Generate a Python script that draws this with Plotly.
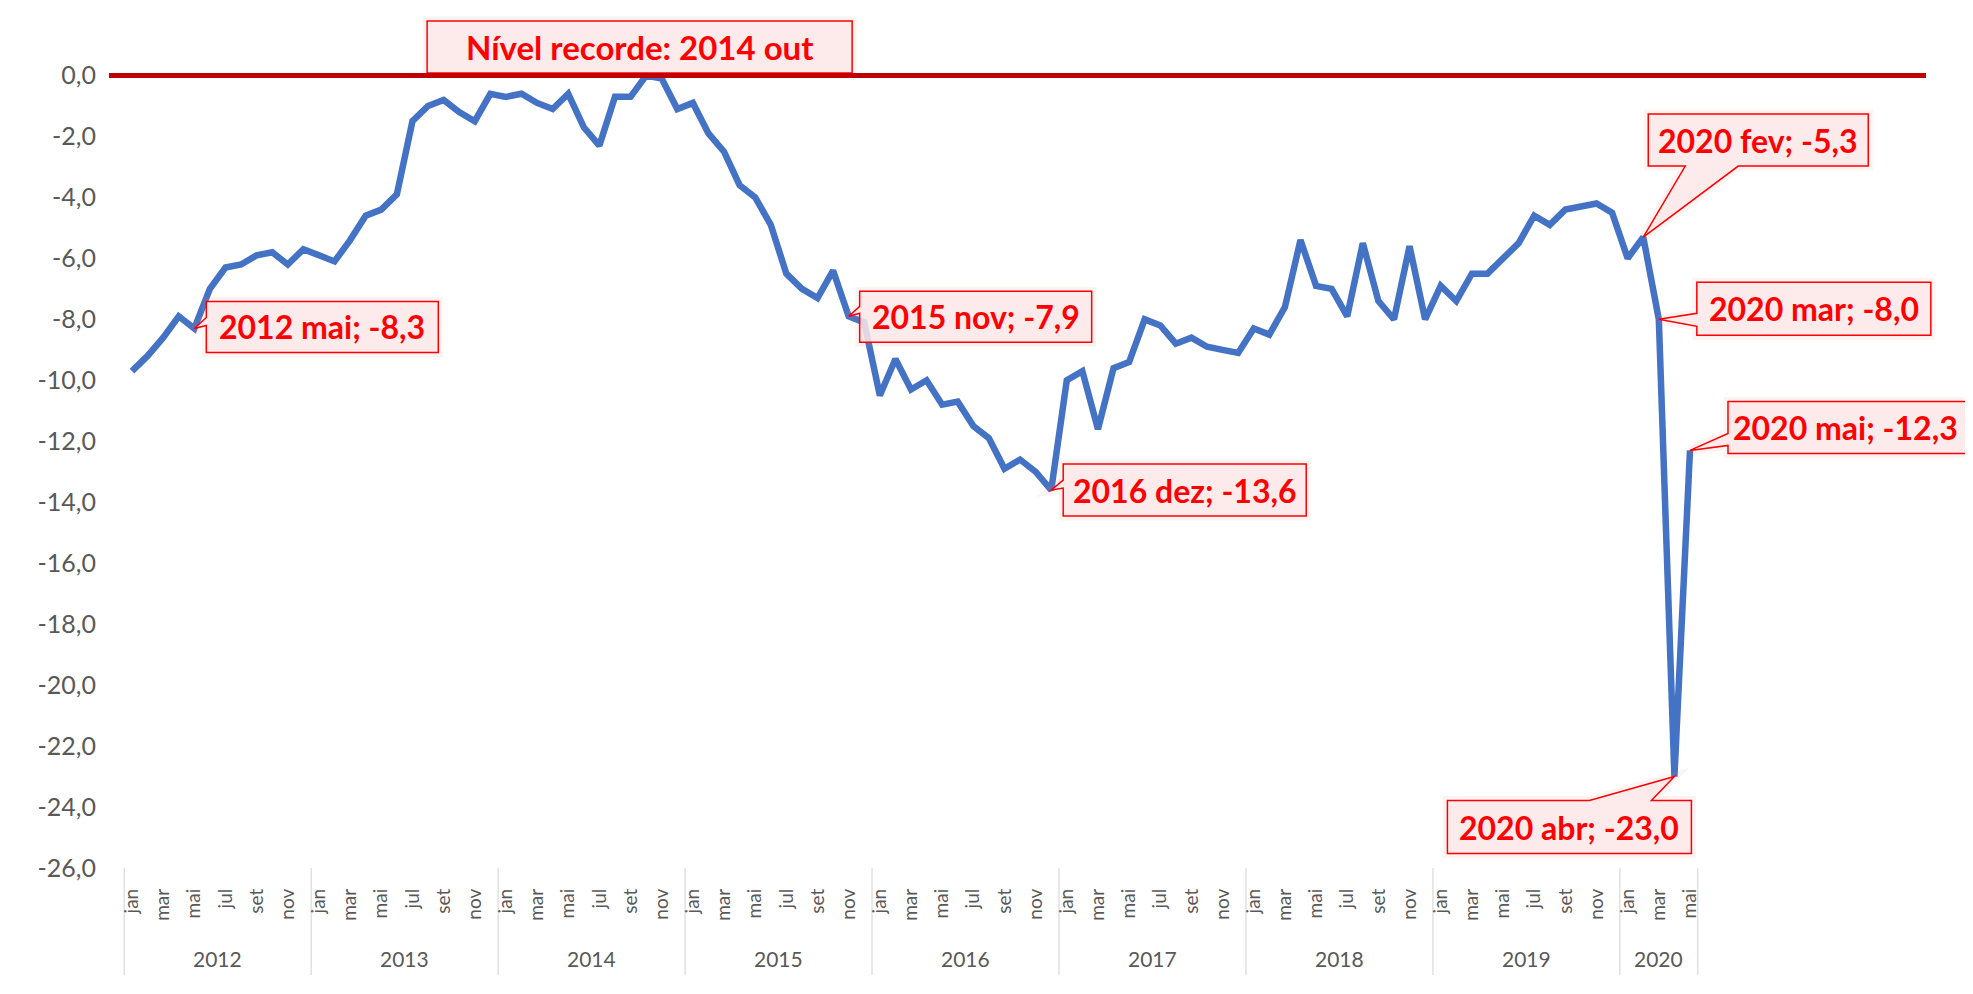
import plotly.graph_objects as go

# ---------------- data ----------------
YEARS = [2012, 2013, 2014, 2015, 2016, 2017, 2018, 2019, 2020]
MONTHS = ["jan", "fev", "mar", "abr", "mai", "jun", "jul", "ago", "set", "out", "nov", "dez"]
TICK_MONTHS = ["jan", "mar", "mai", "jul", "set", "nov"]

V2012 = [-9.7, -9.2, -8.6, -7.9, -8.3, -7.0, -6.3, -6.2, -5.9, -5.8, -6.2, -5.7]
V2013 = [-5.9, -6.1, -5.4, -4.6, -4.4, -3.9, -1.5, -1.0, -0.8, -1.2, -1.5, -0.6]
V2014 = [-0.7, -0.6, -0.9, -1.1, -0.6, -1.7, -2.3, -0.7, -0.7, 0.0, -0.1, -1.1]
V2015 = [-0.9, -1.9, -2.5, -3.6, -4.0, -4.9, -6.5, -7.0, -7.3, -6.4, -7.9, -8.1]
V2016 = [-10.5, -9.3, -10.3, -10.0, -10.8, -10.7, -11.5, -11.9, -12.9, -12.6, -13.0, -13.6]
V2017 = [-10.0, -9.7, -11.6, -9.6, -9.4, -8.0, -8.2, -8.8, -8.6, -8.9, -9.0, -9.1]
V2018 = [-8.3, -8.5, -7.6, -5.4, -6.9, -7.0, -7.9, -5.5, -7.4, -8.0, -5.6, -8.0]
V2019 = [-6.9, -7.4, -6.5, -6.5, -6.0, -5.5, -4.6, -4.9, -4.4, -4.3, -4.2, -4.5]
V2020 = [-6.0, -5.3, -8.0, -23.0, -12.3]
SERIES = [V2012, V2013, V2014, V2015, V2016, V2017, V2018, V2019, V2020]

Y_TICKS = [0, -2, -4, -6, -8, -10, -12, -14, -16, -18, -20, -22, -24, -26]
Y_TICK_LABELS = ["0,0", "-2,0", "-4,0", "-6,0", "-8,0", "-10,0", "-12,0", "-14,0",
                 "-16,0", "-18,0", "-20,0", "-22,0", "-24,0", "-26,0"]

CALLOUT_POINTS = [(2012, "mai"), (2015, "nov"), (2016, "dez"),
                  (2020, "fev"), (2020, "mar"), (2020, "abr"), (2020, "mai")]
RECORD_PREFIX = "Nível recorde"

# ---------------- layout constants ----------------
# the page body adds an 8px offset; design coordinates are screen pixels
OFF = 8
SCREEN_W, SCREEN_H = 1973, 994
W, H = SCREEN_W - OFF, SCREEN_H - OFF
AXIS_BOTTOM_S = 868.0      # screen y of the -26 level
PLOT_LEFT_S = 109.0
PLOT_TOP_S = 15.0
ML, MR = PLOT_LEFT_S - OFF, 0
MT = PLOT_TOP_S - OFF
MB = SCREEN_H - AXIS_BOTTOM_S
PW, PH = W - ML - MR, H - MT - MB
PPX = 15.58                # px per month
FIRST_EDGE_S = 124.2
Y0_S = 75.5
PPU = (AXIS_BOTTOM_S - Y0_S) / 26.0
X_LO = -0.5 - (FIRST_EDGE_S - PLOT_LEFT_S) / PPX
X_HI = X_LO + PW / PPX
Y_HI = (Y0_S - PLOT_TOP_S) / PPU
RED_LINE_END_S = 1926.0

GRAY = "#595959"
RED = "#FF0000"
FONT = "Lato, 'Open Sans', sans-serif"
LABEL_SIZE = 32
FILL = "rgba(253,232,232,0.85)"
GLOW = "rgba(245,140,140,0.10)"

# callout polygons, pixel offsets from the data point (y up)
CALLOUT_SHAPES = [
    [(0, 0), (12, 3), (12, -24), (244, -24), (244, 27), (12, 27), (12, 11)],
    [(0, 0), (11, 3), (11, -26), (243, -26), (243, 25), (11, 25), (11, 10)],
    [(0, 0), (12, 2), (12, -26), (255, -26), (255, 26), (12, 26), (12, 10)],
    [(0, 0), (95, 71), (225, 71), (225, 123), (5, 123), (5, 71), (42, 71)],
    [(0, 0), (38, -7), (38, -16), (272, -16), (272, 37), (38, 37), (38, 6)],
    [(0, 0), (-23, -24), (17, -24), (17, -77), (-227, -77), (-227, -24), (-85, -24)],
    [(0, 0), (38, 5), (38, -3), (279, -3), (279, 49), (38, 49), (38, 17)],
]
TEXT_NUDGE = [0, 0, 0, 0, 0, 0, -3]
RECORD_BOX = [(-219, 2.5), (206, 2.5), (206, 54.5), (-219, 54.5)]


def fmt(v):
    return f"{v:.1f}".replace(".", ",")


def path_of(pts):
    return "M " + " L ".join(f"{a} {b}" for a, b in pts) + " Z"


def box_center(pts):
    xs = [p[0] for p in pts]
    ys = [p[1] for p in pts]
    return (min(xs) + max(xs)) / 2, (min(ys) + max(ys)) / 2


# ---------------- derived sequences ----------------
idx, vals, yr_of, mon_of = [], [], [], []
k = 0
for y, vs in zip(YEARS, SERIES):
    for m, v in zip(MONTHS, vs):
        idx.append(k)
        vals.append(v)
        yr_of.append(y)
        mon_of.append(m)
        k += 1

fig = go.Figure()
fig.add_trace(go.Scatter(x=idx, y=vals, mode="lines",
                         line=dict(color="#4472C4", width=6.5),
                         hoverinfo="skip", showlegend=False))

shapes = []
annotations = []


def add_callout(i, v, poly, text, shift_x=0, size=LABEL_SIZE):
    base = dict(type="path", xref="x", yref="y", xsizemode="pixel", ysizemode="pixel",
                xanchor=i, yanchor=v, path=path_of(poly), layer="above")
    # soft halo under the box
    shapes.append(dict(base, fillcolor="rgba(0,0,0,0)", line=dict(color=GLOW, width=9)))
    shapes.append(dict(base, fillcolor=FILL, line=dict(color=RED, width=1.5)))
    cx, cy = box_center(poly[1:] if poly[0] == (0, 0) else poly)
    annotations.append(dict(x=i, y=v, xref="x", yref="y", xshift=cx + shift_x, yshift=cy,
                            text=text, showarrow=False, xanchor="center", yanchor="middle",
                            font=dict(family=FONT, size=size, color=RED, weight=700)))


for (yy, mm), poly, nudge in zip(CALLOUT_POINTS, CALLOUT_SHAPES, TEXT_NUDGE):
    i = [j for j in idx if yr_of[j] == yy and mon_of[j] == mm][0]
    add_callout(i, vals[i], poly, f"{yy} {mm}; {fmt(vals[i])}", nudge)

# record label (highest value of the series)
rec = max(idx, key=lambda j: (vals[j], -j))
add_callout(rec, vals[rec], RECORD_BOX, f"{RECORD_PREFIX}: {yr_of[rec]} {mon_of[rec]}",
            0, LABEL_SIZE + 1)

# record level line
shapes.append(dict(type="line", xref="paper", yref="y", x0=0,
                   x1=(RED_LINE_END_S - PLOT_LEFT_S) / PW,
                   y0=vals[rec], y1=vals[rec], line=dict(color="#C00000", width=5), layer="above"))

# year separators and labels
bounds = []
for y in YEARS:
    members = [j for j in idx if yr_of[j] == y]
    bounds.append(members[0] - 0.5)
    annotations.append(dict(x=sum(members) / len(members), y=0, xref="x", yref="paper",
                            yshift=-90, text=str(y), showarrow=False,
                            xanchor="center", yanchor="middle",
                            font=dict(family=FONT, size=21, color=GRAY)))
bounds.append(idx[-1] + 0.5)
for b in bounds:
    shapes.append(dict(type="line", xref="x", yref="paper", x0=b, x1=b, y0=0, y1=-107 / PH,
                       line=dict(color="#D9D9D9", width=1.2), layer="below"))

tickvals = [j for j in idx if mon_of[j] in TICK_MONTHS]
ticktext = [mon_of[j] for j in tickvals]

fig.update_layout(
    width=W, height=H,
    margin=dict(l=ML, r=MR, t=MT, b=MB, pad=0),
    paper_bgcolor="white", plot_bgcolor="white",
    shapes=shapes, annotations=annotations,
    showlegend=False,
    xaxis=dict(range=[X_LO, X_HI], tickvals=tickvals, ticktext=ticktext, tickangle=-90,
               showgrid=False, zeroline=False, showline=False, ticks="",
               ticklabelstandoff=16,
               tickfont=dict(family=FONT, size=19, color=GRAY)),
    yaxis=dict(range=[-26, Y_HI], tickvals=Y_TICKS, ticktext=Y_TICK_LABELS,
               showgrid=False, zeroline=False, showline=False, ticks="",
               ticklabelstandoff=12,
               tickfont=dict(family=FONT, size=25, color=GRAY)),
)

fig.write_html("out.html")
